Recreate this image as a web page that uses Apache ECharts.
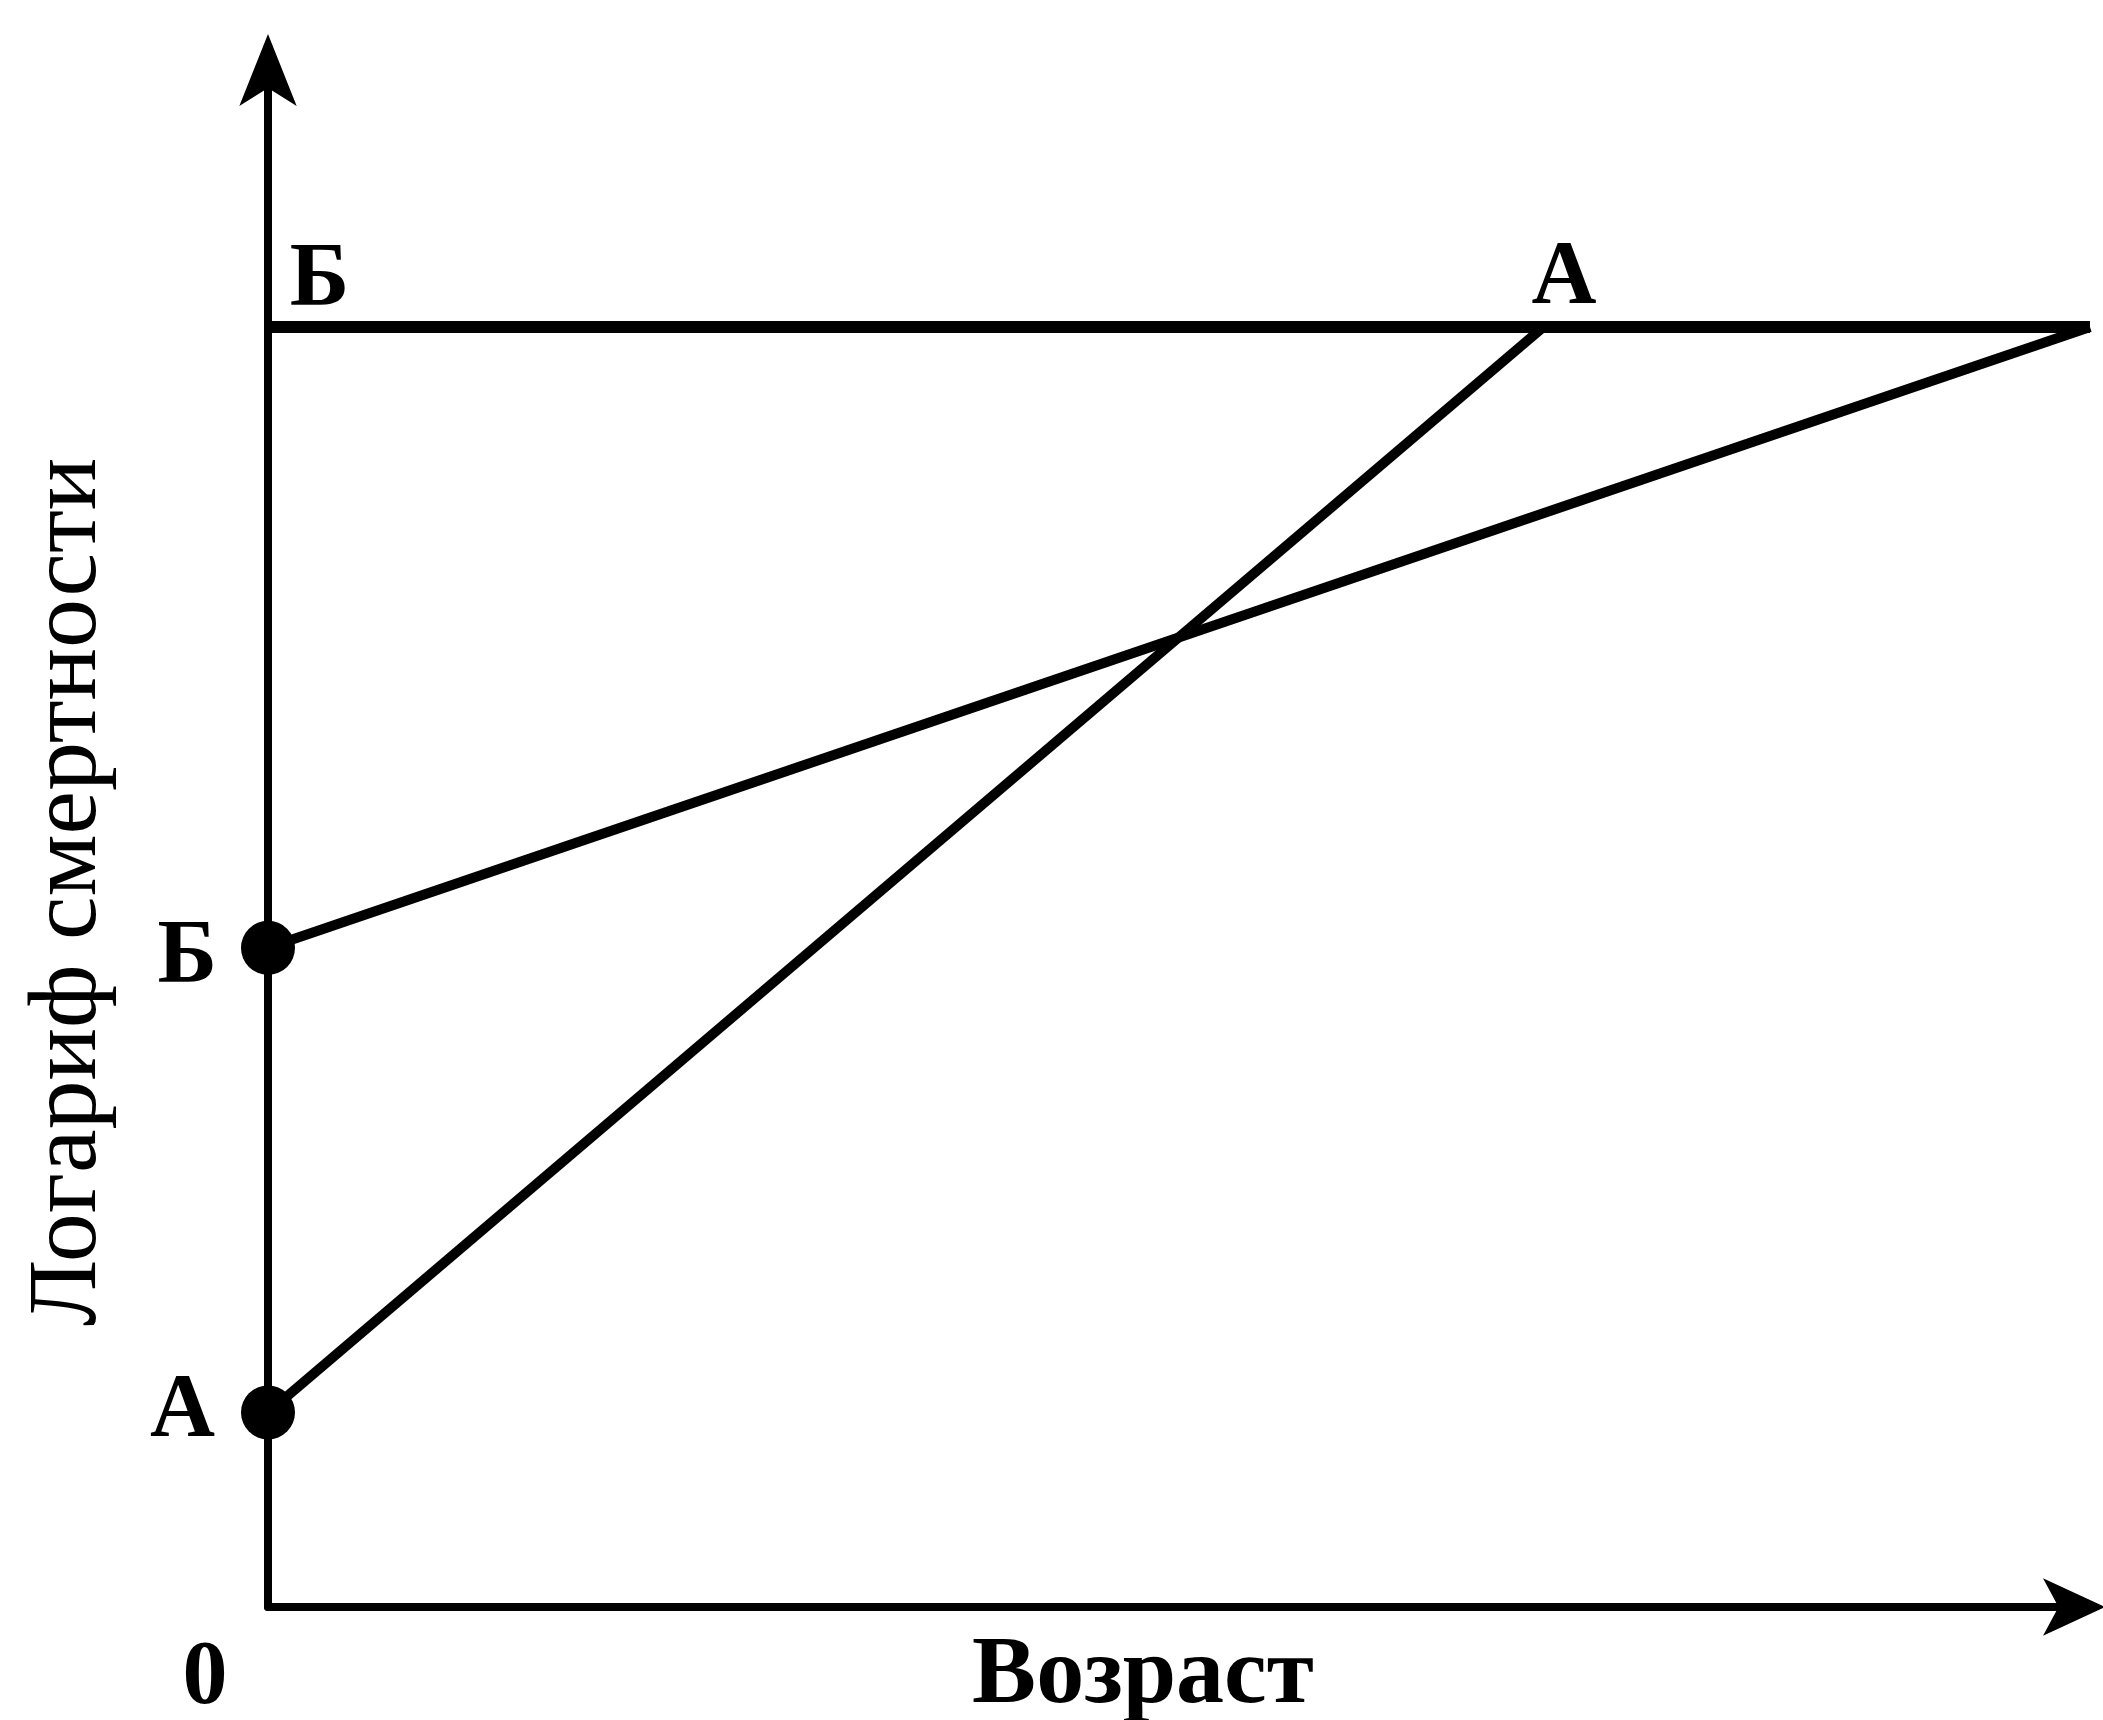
<!DOCTYPE html>
<html>
<head>
<meta charset="utf-8">
<title>Логариф смертности</title>
<script src="https://cdn.jsdelivr.net/npm/echarts@6/dist/echarts.min.js"></script>
<style>
  html, body { margin: 0; padding: 0; background: #fff; }
  #main { width: 2103px; height: 1720px; }
</style>
</head>
<body>
<div id="main"></div>
<script>
// значения читаются с картинки (условные единицы)
const ageA = [0, 70];
const logMortA = [15.2, 100];
const ageB = [0, 100];
const logMortB = [51.5, 100];
const limitAge = [0, 100];
const limitLevel = [100, 100];
const xTickLabels = ['0'];
const pointNames = ['Б', 'А'];

const FONT = '"Liberation Serif", "DejaVu Serif", serif';
const INK = '#000';

const myChart = echarts.init(document.getElementById('main'));

function pairs(xs, ys) {
  return xs.map((x, i) => [x, ys[i]]);
}

const labelBase = {
  show: true,
  color: INK,
  fontFamily: FONT,
  fontWeight: 'bold',
  fontSize: 90
};

var option = {
  backgroundColor: '#fff',
  animation: false,
  grid: {
    left: 268,
    right: 13,
    top: 71,
    bottom: 113,
    containLabel: false,
    outerBoundsMode: 'none'
  },
  xAxis: {
    type: 'value',
    min: 0,
    max: 100,
    interval: 100,
    name: 'Возраст',
    nameLocation: 'middle',
    nameGap: 22,
    nameMoveOverlap: false,
    nameTextStyle: {
      color: INK,
      fontFamily: FONT,
      fontWeight: 'bold',
      fontSize: 96,
      padding: [0, 72, 0, 0]
    },
    axisLine: {
      onZero: false,
      symbol: ['none', 'arrow'],
      symbolSize: [43, 62],
      symbolOffset: [0, 15],
      lineStyle: { color: INK, width: 8 }
    },
    axisTick: { show: false },
    splitLine: { show: false },
    axisLabel: {
      color: INK,
      fontFamily: FONT,
      fontWeight: 'bold',
      fontSize: 90,
      margin: 28,
      padding: [0, 126, 0, 0],
      formatter: (v) => (v === 0 ? xTickLabels[0] : '')
    }
  },
  yAxis: {
    type: 'value',
    min: 0,
    max: 120,
    name: 'Логариф смертности',
    nameLocation: 'middle',
    nameRotate: 90,
    nameGap: 150,
    nameMoveOverlap: false,
    nameTextStyle: {
      color: INK,
      fontFamily: FONT,
      fontSize: 98,
      padding: [0, 106, 0, 0]
    },
    axisLine: {
      onZero: false,
      symbol: ['none', 'arrow'],
      symbolSize: [43, 72],
      symbolOffset: [0, 37],
      lineStyle: { color: INK, width: 8 }
    },
    axisTick: { show: false },
    splitLine: { show: false },
    axisLabel: { show: false }
  },
  series: [
    {
      name: 'предел',
      type: 'line',
      showSymbol: false,
      lineStyle: { color: INK, width: 12 },
      data: pairs(limitAge, limitLevel)
    },
    {
      name: 'А',
      type: 'line',
      showSymbol: false,
      lineStyle: { color: INK, width: 10 },
      data: pairs(ageA, logMortA)
    },
    {
      name: 'Б',
      type: 'line',
      showSymbol: false,
      lineStyle: { color: INK, width: 10 },
      data: pairs(ageB, logMortB)
    },
    {
      // начальные точки на оси
      name: 'точки',
      type: 'scatter',
      symbolSize: 54,
      itemStyle: { color: INK, opacity: 1 },
      z: 5,
      data: [
        {
          value: [ageB[0], logMortB[0]],
          label: Object.assign({}, labelBase, {
            formatter: pointNames[0], position: 'left', distance: 24, offset: [0, 11]
          })
        },
        {
          value: [ageA[0], logMortA[0]],
          label: Object.assign({}, labelBase, {
            formatter: pointNames[1], position: 'left', distance: 26
          })
        }
      ]
    },
    {
      // подписи у верхней линии
      name: 'подписи',
      type: 'scatter',
      symbolSize: 1,
      itemStyle: { color: 'rgba(0,0,0,0)', opacity: 1 },
      silent: true,
      data: [
        {
          value: [limitAge[0], limitLevel[0]],
          label: Object.assign({}, labelBase, {
            formatter: pointNames[0], position: [52, -45], align: 'center', verticalAlign: 'middle'
          })
        },
        {
          value: [ageA[1], logMortA[1]],
          label: Object.assign({}, labelBase, {
            formatter: pointNames[1], position: [21, -47], align: 'center', verticalAlign: 'middle'
          })
        }
      ]
    }
  ]
};

option && myChart.setOption(option);
</script>
</body>
</html>
